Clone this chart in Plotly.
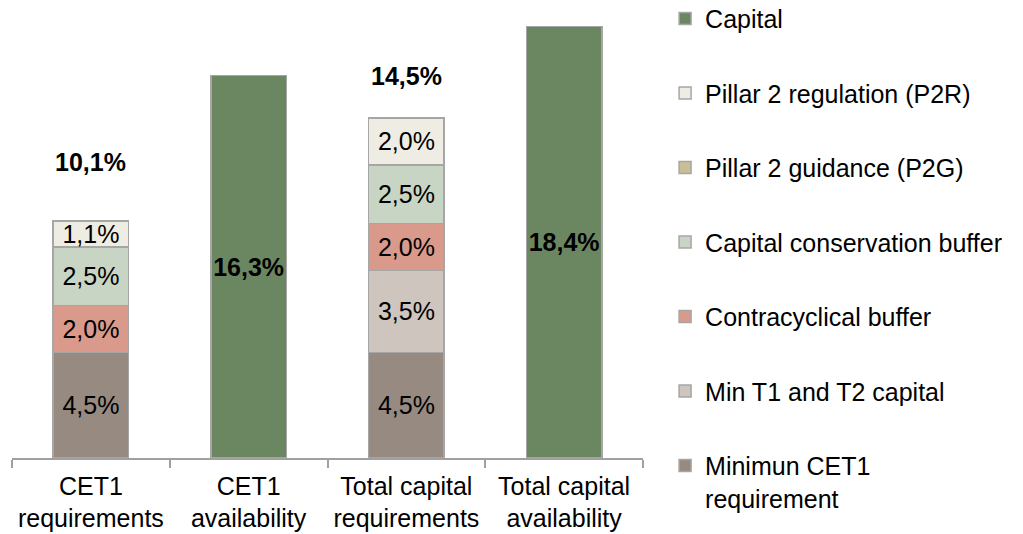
import plotly.graph_objects as go

# カテゴリー
categories = [
    "CET1<br>requirements",
    "CET1<br>availability",
    "Total capital<br>requirements",
    "Total capital<br>availability",
]

# 各系列の値 (%)
minimum_cet1 = [4.5, None, 4.5, None]
min_t1_t2 = [None, None, 3.5, None]
contracyclical = [2.0, None, 2.0, None]
conservation = [2.5, None, 2.5, None]
p2g = [None, None, None, None]
p2r = [1.1, None, 2.0, None]
capital = [None, 16.3, None, 18.4]

# 合計ラベル
totals = [10.1, None, 14.5, None]


def _fmt(v):
    if v is None:
        return ""
    return f"{v:.1f}".replace(".", ",") + "%"


series = [
    ("Minimun CET1<br>requirement", minimum_cet1, "#968a81", False),
    ("Min T1 and T2 capital", min_t1_t2, "#cdc5be", False),
    ("Contracyclical buffer", contracyclical, "#d99a8b", False),
    ("Capital conservation buffer", conservation, "#c9d5c4", False),
    ("Pillar 2 guidance (P2G)", p2g, "#c9be96", False),
    ("Pillar 2 regulation (P2R)", p2r, "#efede3", False),
    ("Capital", capital, "#6b8762", True),
]

FONT = "Liberation Sans, Arial, sans-serif"

fig = go.Figure()
for i, (name, vals, color, bold) in enumerate(series):
    fig.add_trace(go.Bar(
        x=categories, y=vals, name=name,
        legendgroup=f"g{i}",
        legendrank=len(series) - i,
        marker=dict(color=color, line=dict(color="#a6a6a6", width=1.5)),
        text=[f"<b>{_fmt(v)}</b>" if bold and v is not None else _fmt(v) for v in vals],
        textposition="inside",
        insidetextanchor="middle",
        textangle=0,
        constraintext="none",
        textfont=dict(family=FONT, size=25, color="#000000"),
        hoverinfo="skip",
    ))

# 合計ラベル
shifts = [43, None, 26, None]
for cat, t, s in zip(categories, totals, shifts):
    if t is None:
        continue
    fig.add_annotation(
        x=cat, y=t, text=f"<b>{_fmt(t)}</b>", showarrow=False,
        yanchor="bottom", yshift=s,
        font=dict(family=FONT, size=25, color="#000000"),
    )

# ページ既定の余白(8px)を考慮したサイズ
fig.update_layout(
    width=1015, height=526,
    barmode="stack", bargap=0.52,
    paper_bgcolor="white", plot_bgcolor="white",
    margin=dict(l=4, r=380, t=2, b=76, autoexpand=False),
    font=dict(family=FONT, size=25, color="#000000"),
    legend=dict(
        x=1.035, xanchor="left", y=1.032, yanchor="top",
        traceorder="grouped", tracegroupgap=39,
        valign="top", maxheight=560,
        font=dict(family=FONT, size=25, color="#000000"),
    ),
    showlegend=True,
)
fig.update_xaxes(
    showline=True, linecolor="#a0a0a0", linewidth=1.5,
    ticks="outside", tickson="boundaries", ticklen=8, tickcolor="#a0a0a0", tickwidth=1.5,
    tickfont=dict(family=FONT, size=25, color="#000000"), ticklabelstandoff=5,
    showgrid=False, zeroline=False, automargin=False,
)
fig.update_yaxes(visible=False, range=[0, 19.1], showgrid=False, zeroline=False)

fig.write_html("out.html")
